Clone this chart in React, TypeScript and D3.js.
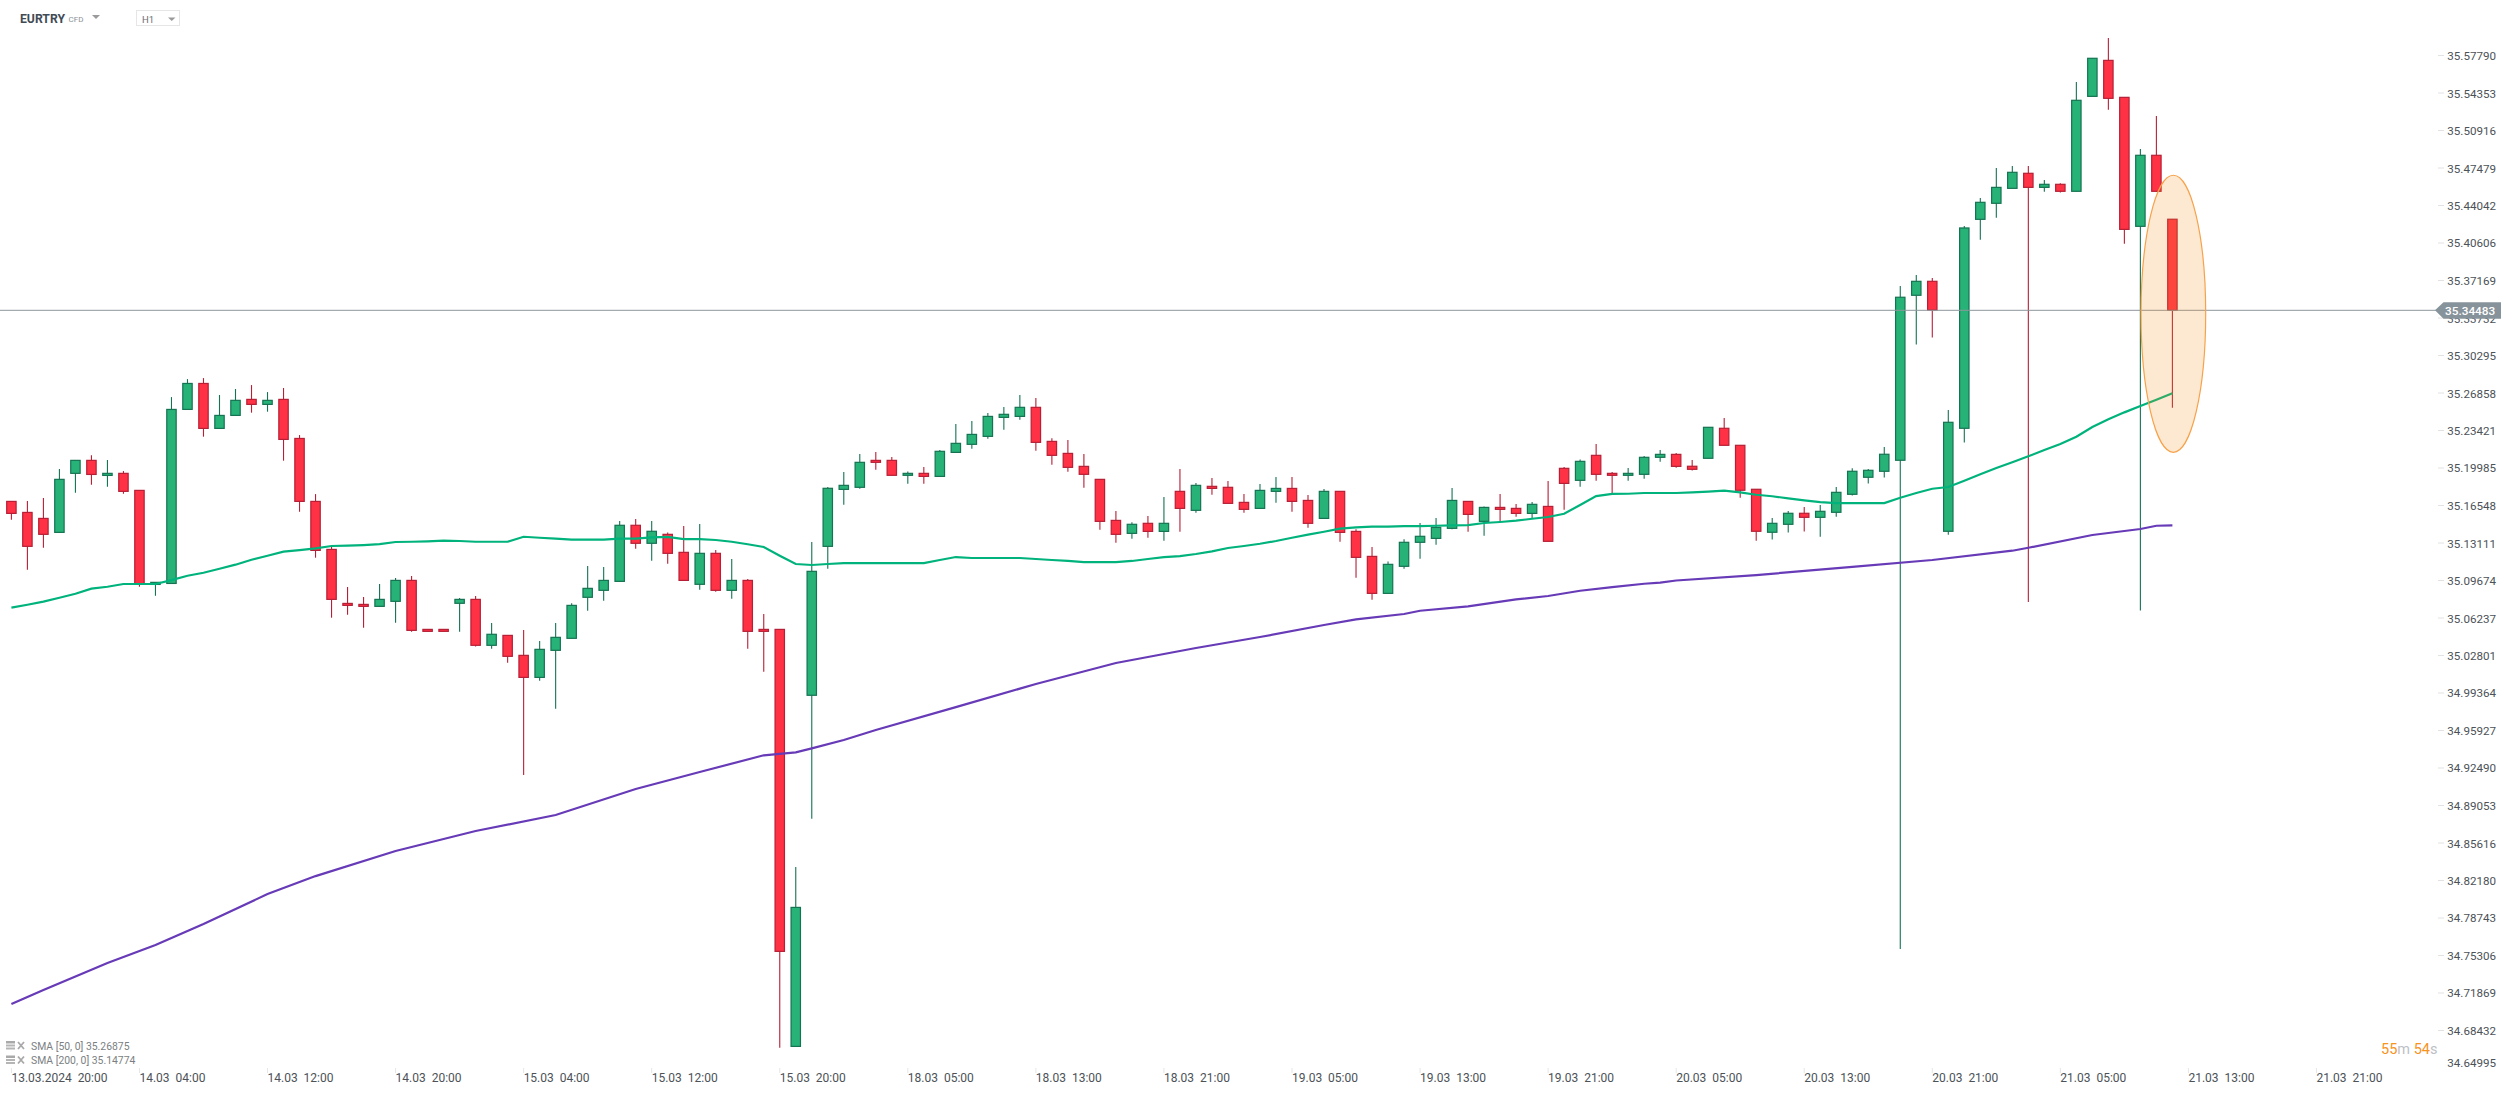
import React from 'react';
import { scaleLinear, line, range } from 'd3';

const WIDTH = 2506;
const HEIGHT = 1093;

const opens = [
  35.1697, 35.1596, 35.1541, 35.1413, 35.1954, 35.2073, 35.1935, 35.1954, 35.1798, 35.0936, 35.0945, 35.254,
  35.2778, 35.2366, 35.2485, 35.2632, 35.2586, 35.2632, 35.2274, 35.1697, 35.1257, 35.0762, 35.0753, 35.0735,
  35.0781, 35.0973, 35.0524, 35.0524, 35.0763, 35.0799, 35.0378, 35.0469, 35.0286, 35.0084, 35.0332, 35.0442,
  35.0818, 35.0882, 35.0964, 35.1478, 35.1313, 35.1395, 35.123, 35.0937, 35.1221, 35.0882, 35.0973, 35.0524,
  35.0524, 34.6702, 34.992, 35.1285, 35.1807, 35.1826, 35.2073, 35.2073, 35.1936, 35.1954, 35.1926, 35.2146,
  35.222, 35.2293, 35.2467, 35.2476, 35.2559, 35.2247, 35.2137, 35.2018, 35.1899, 35.1523, 35.1404, 35.1496,
  35.1422, 35.1789, 35.1615, 35.1835, 35.1826, 35.1688, 35.1633, 35.1789, 35.1816, 35.1706, 35.1541, 35.1789,
  35.1422, 35.1193, 35.0854, 35.1102, 35.1322, 35.1358, 35.145, 35.1697, 35.1514, 35.1642, 35.1633, 35.1587,
  35.1651, 35.2, 35.189, 35.2119, 35.1954, 35.1936, 35.1945, 35.2101, 35.2128, 35.2019, 35.2092, 35.2367,
  35.2211, 35.1808, 35.1414, 35.1487, 35.1588, 35.1551, 35.1597, 35.1762, 35.1918, 35.1973, 35.2074, 35.3586,
  35.3714, 35.1423, 35.2367, 35.4282, 35.4429, 35.4566, 35.4704, 35.4575, 35.4603, 35.4539, 35.5409, 35.5739,
  35.54, 35.4218, 35.4869, 35.4283,
];
const highs = [
  35.1697, 35.17, 35.1728, 35.1993, 35.2073, 35.2119, 35.2076, 35.1975, 35.1798, 35.0955, 35.2653, 35.2818,
  35.2827, 35.2672, 35.2727, 35.2763, 35.2699, 35.2736, 35.2305, 35.1764, 35.1282, 35.0912, 35.082, 35.0939,
  35.0994, 35.1013, 35.0524, 35.0524, 35.0812, 35.083, 35.0582, 35.0469, 35.0518, 35.0417, 35.0582, 35.0763,
  35.1105, 35.1096, 35.1517, 35.1536, 35.1517, 35.1413, 35.1471, 35.149, 35.1251, 35.1169, 35.0986, 35.0665,
  35.0524, 34.8346, 35.1325, 35.1829, 35.1966, 35.2131, 35.2149, 35.2104, 35.1972, 35.2012, 35.2168, 35.2406,
  35.2434, 35.2507, 35.2562, 35.2672, 35.2644, 35.2275, 35.2259, 35.2131, 35.1899, 35.1609, 35.1505, 35.1563,
  35.1737, 35.1994, 35.1865, 35.1911, 35.1884, 35.1765, 35.1856, 35.192, 35.192, 35.1755, 35.181, 35.1789,
  35.1441, 35.1279, 35.1147, 35.1349, 35.1499, 35.1545, 35.1819, 35.1697, 35.1651, 35.1764, 35.1673, 35.1691,
  35.1884, 35.2012, 35.2082, 35.2223, 35.1966, 35.2003, 35.2113, 35.2168, 35.214, 35.2077, 35.2376, 35.2462,
  35.2211, 35.1808, 35.1545, 35.1609, 35.1646, 35.1664, 35.1829, 35.2, 35.1994, 35.2196, 35.3671, 35.3772,
  35.3745, 35.2535, 35.4221, 35.4478, 35.4753, 35.4771, 35.4771, 35.4643, 35.4612, 35.5541, 35.5758, 35.5944,
  35.54, 35.4927, 35.5229, 35.4283,
];
const lows = [
  35.1529, 35.1071, 35.1272, 35.1413, 35.1776, 35.185, 35.1831, 35.1767, 35.0915, 35.0832, 35.0945, 35.254,
  35.229, 35.2366, 35.2485, 35.251, 35.2519, 35.207, 35.1602, 35.1181, 35.0631, 35.0658, 35.0539, 35.0735,
  35.0585, 35.0503, 35.0506, 35.0506, 35.0503, 35.0366, 35.0347, 35.0219, 34.9189, 35.0054, 34.9797, 35.0442,
  35.0695, 35.0787, 35.0964, 35.1264, 35.1154, 35.1126, 35.0973, 35.0888, 35.087, 35.0805, 35.0347, 35.0136,
  34.669, 34.6702, 34.8789, 35.108, 35.1667, 35.1813, 35.1988, 35.1936, 35.1859, 35.1859, 35.1926, 35.2146,
  35.218, 35.2272, 35.2354, 35.2446, 35.2162, 35.2033, 35.1969, 35.1823, 35.1438, 35.1319, 35.1355, 35.1364,
  35.1337, 35.1419, 35.1593, 35.1758, 35.1679, 35.1593, 35.1633, 35.1685, 35.1603, 35.1456, 35.1541, 35.1328,
  35.0998, 35.0796, 35.0854, 35.108, 35.1172, 35.13, 35.1441, 35.1419, 35.1383, 35.1514, 35.1557, 35.1541,
  35.1331, 35.1621, 35.1832, 35.1887, 35.1771, 35.1887, 35.1905, 35.2061, 35.2006, 35.1979, 35.2092, 35.2211,
  35.1731, 35.1337, 35.1347, 35.1411, 35.142, 35.1374, 35.1557, 35.175, 35.186, 35.1915, 34.7594, 35.3134,
  35.3198, 35.1392, 35.2236, 35.4096, 35.4297, 35.4566, 35.0775, 35.4536, 35.4527, 35.4539, 35.5409, 35.5287,
  35.4059, 35.0696, 35.4539, 35.2556,
];
const closes = [
  35.1587, 35.1285, 35.1395, 35.1899, 35.2073, 35.1944, 35.1954, 35.1789, 35.0939, 35.0955, 35.254, 35.2778,
  35.2366, 35.2485, 35.2623, 35.2586, 35.2623, 35.2265, 35.1697, 35.1248, 35.0799, 35.0744, 35.0735, 35.0799,
  35.0973, 35.0515, 35.0506, 35.0506, 35.0799, 35.0378, 35.0479, 35.0277, 35.0084, 35.0341, 35.0451, 35.0744,
  35.09, 35.0973, 35.1478, 35.1313, 35.1423, 35.1221, 35.0973, 35.1221, 35.0882, 35.0973, 35.0506, 35.0506,
  34.7573, 34.7976, 35.1056, 35.1817, 35.1844, 35.2055, 35.2055, 35.1936, 35.1954, 35.1926, 35.2156, 35.2229,
  35.2311, 35.2476, 35.2495, 35.2559, 35.2238, 35.2119, 35.2009, 35.1945, 35.1514, 35.1395, 35.1487, 35.1422,
  35.1496, 35.1633, 35.1844, 35.1816, 35.1679, 35.1624, 35.1798, 35.1816, 35.1697, 35.1496, 35.1789, 35.1413,
  35.1184, 35.0854, 35.112, 35.1322, 35.1377, 35.1459, 35.1706, 35.1578, 35.1642, 35.1624, 35.1587, 35.167,
  35.1331, 35.1862, 35.2064, 35.1945, 35.1936, 35.1954, 35.2101, 35.2128, 35.2018, 35.1991, 35.2376, 35.2211,
  35.1799, 35.1423, 35.1496, 35.1588, 35.1551, 35.1606, 35.178, 35.1973, 35.1982, 35.2129, 35.3568, 35.3714,
  35.3451, 35.2422, 35.4203, 35.4438, 35.4575, 35.4713, 35.4575, 35.4603, 35.4539, 35.5373, 35.5758, 35.5391,
  35.419, 35.4869, 35.4539, 35.34483,
];

// SMA 50, one value per bar
const sma50 = [
  35.0723, 35.075, 35.0778, 35.0814, 35.0851, 35.0897, 35.0915, 35.094, 35.094, 35.094, 35.0976, 35.1016,
  35.1043, 35.108, 35.1117, 35.1162, 35.1199, 35.1236, 35.1251, 35.1267, 35.1288, 35.1291, 35.1297, 35.1306,
  35.1325, 35.1327, 35.1331, 35.1337, 35.1334, 35.1327, 35.1327, 35.1327, 35.1373, 35.1364, 35.1355, 35.1346,
  35.1346, 35.1346, 35.1355, 35.1355, 35.1368, 35.1371, 35.1352, 35.1352, 35.1343, 35.1327, 35.1304, 35.1279,
  35.1199, 35.1123, 35.1114, 35.1123, 35.1132, 35.1132, 35.1132, 35.1132, 35.1132, 35.1132, 35.116, 35.1187,
  35.1178, 35.1178, 35.1178, 35.1178, 35.1169, 35.116, 35.1151, 35.1141, 35.1141, 35.1141, 35.1151, 35.1169,
  35.1187, 35.1196, 35.1215, 35.1239, 35.127, 35.1288, 35.1309, 35.1334, 35.1364, 35.1392, 35.1419, 35.1447,
  35.1459, 35.1465, 35.1465, 35.1471, 35.1471, 35.1474, 35.1478, 35.148, 35.1499, 35.1508, 35.152, 35.1538,
  35.1554, 35.1584, 35.1664, 35.1746, 35.1765, 35.1767, 35.1774, 35.1774, 35.1774, 35.178, 35.1786, 35.1795,
  35.178, 35.1758, 35.1744, 35.1725, 35.1707, 35.1691, 35.1682, 35.1682, 35.1682, 35.1682, 35.1731, 35.1774,
  35.1813, 35.1829, 35.1887, 35.1945, 35.2003, 35.2055, 35.211, 35.2168, 35.2223, 35.229, 35.2379, 35.2449,
  35.2513, 35.2571, 35.2629, 35.26875,
];

const sma200Bars = [
  0, 2, 6, 9, 12, 16, 19, 24, 29, 34, 39, 43, 47, 49, 50, 52, 54, 59, 64, 69, 74, 78, 82, 84, 87, 88, 91, 94, 96,
  98, 100, 102, 103, 104, 109, 115, 120, 125, 126, 130, 133, 134, 135,
];
const sma200 = [
  34.709, 34.7219, 34.7466, 34.7631, 34.7824, 34.8098, 34.8263, 34.8493, 34.8676, 34.8823, 34.9061, 34.9217,
  34.937, 34.9397, 34.9434, 34.951, 34.9602, 34.9812, 35.0023, 35.0216, 35.0353, 35.0454, 35.0564, 35.0616,
  35.0665, 35.0695, 35.0735, 35.0799, 35.083, 35.0878, 35.0912, 35.0942, 35.0952, 35.0972, 35.1022, 35.1096,
  35.116, 35.1245, 35.1272, 35.1389, 35.1444, 35.1474, 35.14774,
];

const yTickLabels = [
  '35.57790', '35.54353', '35.50916', '35.47479', '35.44042', '35.40606', '35.37169', '35.33732', '35.30295',
  '35.26858', '35.23421', '35.19985', '35.16548', '35.13111', '35.09674', '35.06237', '35.02801', '34.99364',
  '34.95927', '34.92490', '34.89053', '34.85616', '34.82180', '34.78743', '34.75306', '34.71869', '34.68432',
  '34.64995',
];

const xTickLabels = [
  '13.03.2024  20:00', '14.03  04:00', '14.03  12:00', '14.03  20:00', '15.03  04:00', '15.03  12:00',
  '15.03  20:00', '18.03  05:00', '18.03  13:00', '18.03  21:00', '19.03  05:00', '19.03  13:00', '19.03  21:00',
  '20.03  05:00', '20.03  13:00', '20.03  21:00', '21.03  05:00', '21.03  13:00', '21.03  21:00',
];
const X_TICK_EVERY = 8;

const lastPrice = 35.34483;
const legendRows = ['SMA [50, 0] 35.26875', 'SMA [200, 0] 35.14774'];

// highlight around the last bar
const markBar = 135.06;
const markBarsWide = 2.02;
const markHigh = 35.4686;
const markLow = 35.2147;

const FONT = 'Roboto, sans-serif';
const UP_FILL = '#27b277';
const UP_STROKE = '#147352';
const DOWN_FILL = '#ff3145';
const DOWN_STROKE = '#b61f35';

const x = scaleLinear().domain([0, 135]).range([11.4, 2172.4]);
const y = scaleLinear()
  .domain([35.5779, 34.68432])
  .range([56, 56 + 26 * 37.5]);

export default function App() {
  const bars = range(opens.length);

  const sma50Path = line<number>()
    .x((d) => x(d))
    .y((d) => y(sma50[d]))(bars);
  const sma200Path = line<number>()
    .x((d) => x(sma200Bars[d]))
    .y((d) => y(sma200[d]))(range(sma200.length));

  const priceY = y(lastPrice);

  return (
    <svg
      width={WIDTH}
      height={HEIGHT}
      style={{ position: 'fixed', left: 0, top: 0, background: '#fff', fontFamily: FONT }}
    >
      {/* Header */}
      <text x={20} y={22.5} fontSize={12.2} fontWeight={700} fill="#3f4b55">EURTRY</text>
      <text x={68.5} y={22} fontSize={8} fill="#8b9196">CFD</text>
      <path d="M92,15 L100,15 L96,19 Z" fill="#9a9a9a" />
      <rect x={136.5} y={10.5} width={43} height={15} fill="#fff" stroke="#e6e6e6" />
      <text x={142} y={23} fontSize={9.5} fill="#6b6f73">H1</text>
      <path d="M168,17.5 L175.5,17.5 L171.75,21 Z" fill="#9a9a9a" />

      {/* Y axis */}
      {yTickLabels.map((label, i) => {
        const ty = y(+label);
        const last = i === yTickLabels.length - 1;
        return (
          <g key={label}>
            {!last && <line x1={2438} x2={2444} y1={ty - 0.5} y2={ty - 0.5} stroke="#e2e2e2" />}
            <text x={2496} y={last ? ty - 5.5 : ty} textAnchor="end" dominantBaseline="central" fontSize={11.6} fill="#4c5257">
              {label}
            </text>
          </g>
        );
      })}

      {/* X axis */}
      {xTickLabels.map((label, i) => {
        const tx = x(i * X_TICK_EVERY);
        return (
          <g key={label}>
            <line x1={tx} x2={tx} y1={1068} y2={1073} stroke="#e6e6e6" />
            <text x={tx} y={1082} fontSize={12} fill="#4c5257" style={{ whiteSpace: 'pre' }}>
              {label}
            </text>
          </g>
        );
      })}

      {/* Candles */}
      {bars.map((i) => {
        const up = closes[i] >= opens[i];
        const stroke = up ? UP_STROKE : DOWN_STROKE;
        const top = y(Math.max(opens[i], closes[i]));
        const bottom = y(Math.min(opens[i], closes[i]));
        return (
          <g key={i}>
            <line x1={x(i)} x2={x(i)} y1={y(highs[i])} y2={y(lows[i])} stroke={stroke} strokeWidth={1.1} />
            <rect
              x={x(i) - 4.7}
              y={top}
              width={9.4}
              height={Math.max(bottom - top, 1)}
              fill={up ? UP_FILL : DOWN_FILL}
              stroke={stroke}
              strokeWidth={1.2}
            />
          </g>
        );
      })}

      {/* Moving averages */}
      <path d={sma50Path ?? ''} fill="none" stroke="#00b27b" strokeWidth={2.2} />
      <path d={sma200Path ?? ''} fill="none" stroke="#673ab7" strokeWidth={2.2} />

      {/* Last price */}
      <line x1={0} x2={2436} y1={priceY} y2={priceY} stroke="#8e979b" strokeWidth={1} />
      <path
        d={`M2435,${priceY} L2443.5,${priceY - 8} L2501,${priceY - 8} L2501,${priceY + 8.5} L2443.5,${priceY + 8.5} Z`}
        fill="#87939a"
      />
      <text x={2445} y={priceY + 0.5} dominantBaseline="central" fontSize={11.8} fontWeight={500} fill="#fff">
        {lastPrice.toFixed(5)}
      </text>

      {/* Highlight */}
      <ellipse
        cx={x(markBar)}
        cy={(y(markHigh) + y(markLow)) / 2}
        rx={x(markBarsWide) - x(0)}
        ry={(y(markLow) - y(markHigh)) / 2}
        fill="#f7931e"
        fillOpacity={0.2}
        stroke="#f7a24a"
        strokeWidth={1.2}
      />

      {/* Legend */}
      {legendRows.map((row, i) => {
        const ly = 1046 + i * 14.5;
        return (
          <g key={row} transform={`translate(6,${ly})`}>
            <rect x={0} y={-5} width={9} height={2.5} fill="#a9a9a9" />
            <rect x={0} y={-1.5} width={9} height={2} fill="#b5b5b5" />
            <rect x={0} y={1.5} width={9} height={2} fill="#b5b5b5" />
            <path d="M12,-4 L18,3 M18,-4 L12,3" stroke="#a9a9a9" strokeWidth={1.8} />
            <text x={25} y={0} dominantBaseline="central" fontSize={10.4} fill="#7b7f83">{row}</text>
          </g>
        );
      })}

      {/* Countdown */}
      <text x={2381} y={1054} fontSize={14.5}>
        <tspan fill="#f7931e">55</tspan>
        <tspan fill="#bcc1c5">m </tspan>
        <tspan fill="#f7931e">54</tspan>
        <tspan fill="#bcc1c5">s</tspan>
      </text>
    </svg>
  );
}
